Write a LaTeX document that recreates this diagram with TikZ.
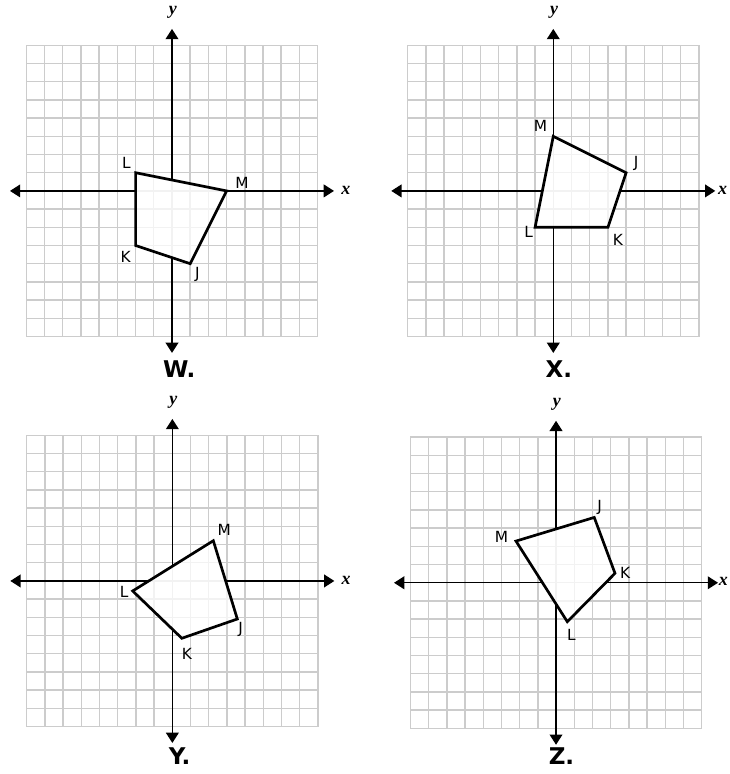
\documentclass[tikz,border=0pt]{standalone}
\usepackage{fontspec}
\usepackage{tikz}
\usetikzlibrary{arrows.meta}
\newfontfamily\vertexfont{DejaVu Sans}
\newfontfamily\axisfont{Liberation Serif}
\tikzset{
  plane grid/.style={draw=gray!40, line width=1.1pt, step=0.5cm},
  faint grid/.style={draw=gray!10, line width=1.1pt, step=0.5cm},
  plane axis/.style={line width=1pt,
    {Triangle[length=8pt,width=10pt]}-{Triangle[length=8pt,width=10pt]}},
  quad edge/.style={line width=2.1pt, line join=miter},
  vertex label/.style={font=\vertexfont\fontsize{12}{14}\selectfont, inner sep=0pt},
  axis label/.style={font=\axisfont\itshape\bfseries\fontsize{14}{14}\selectfont, inner sep=0pt},
  panel label/.style={font=\vertexfont\bfseries\fontsize{18}{18}\selectfont, inner sep=0pt}
}
% grid, axes and axis names of one plane
\newcommand{\coordplane}[2]{%
  \draw[plane grid] (-8,-8) grid (8,8);
  \coordinate (#1-xl) at (-8.9,0);
  \coordinate (#1-xr) at (8.9,0);
  \coordinate (#1-yb) at (0,-8.9);
  \coordinate (#1-yt) at (0,8.9);
  \draw[plane axis] (#1-xl) -- (#1-xr);
  \draw[plane axis] (#1-yb) -- (#1-yt);
  \node[axis label] (#1-x) at (#2,0.05) {x};
  \node[axis label] (#1-y) at (0.05,9.8) {y};
}
% the quadrilateral JKLM, white inside with a faint grid
\newcommand{\quadshape}[1]{%
  \fill[white] (#1-J) -- (#1-K) -- (#1-L) -- (#1-M) -- cycle;
  \begin{scope}
    \clip (#1-J) -- (#1-K) -- (#1-L) -- (#1-M) -- cycle;
    \draw[faint grid] (-8,-8) grid (8,8);
  \end{scope}
  \draw[quad edge] (#1-J) -- (#1-K) -- (#1-L) -- (#1-M) -- cycle;
}

\begin{document}
\begin{tikzpicture}[x=0.5cm,y=0.5cm]
  \useasboundingbox (0,0) rectangle (40.055,-42.527);

  % W.
  \begin{scope}[shift={(9.45,-10.49)}]
    \coordplane{W}{9.55}
    \coordinate (W-J) at (1,-4);
    \coordinate (W-K) at (-2,-3);
    \coordinate (W-L) at (-2,1);
    \coordinate (W-M) at (3,0);
    \quadshape{W}
    \node[vertex label] (W-jl) at (1.4,-4.6) {J};
    \node[vertex label] (W-kl) at (-2.55,-3.6) {K};
    \node[vertex label] (W-ll) at (-2.5,1.55) {L};
    \node[vertex label] (W-ml) at (3.85,0.45) {M};
    \node[panel label] (W-name) at (0.4,-9.8) {W.};
  \end{scope}

  % X.
  \begin{scope}[shift={(30.40,-10.49)}]
    \coordplane{X}{9.3}
    \coordinate (X-J) at (4,1);
    \coordinate (X-K) at (3,-2);
    \coordinate (X-L) at (-1,-2);
    \coordinate (X-M) at (0,3);
    \quadshape{X}
    \node[vertex label] (X-jl) at (4.55,1.5) {J};
    \node[vertex label] (X-kl) at (3.55,-2.7) {K};
    \node[vertex label] (X-ll) at (-1.35,-2.25) {L};
    \node[vertex label] (X-ml) at (-0.7,3.55) {M};
    \node[panel label] (X-name) at (0.3,-9.8) {X.};
  \end{scope}

  % Y.
  \begin{scope}[shift={(9.47,-31.92)}]
    \coordplane{Y}{9.55}
    \coordinate (Y-J) at (3.57,-2.09);
    \coordinate (Y-K) at (0.52,-3.15);
    \coordinate (Y-L) at (-2.18,-0.55);
    \coordinate (Y-M) at (2.25,2.21);
    \quadshape{Y}
    \node[vertex label] (Y-jl) at (3.75,-2.65) {J};
    \node[vertex label] (Y-kl) at (0.8,-4.0) {K};
    \node[vertex label] (Y-ll) at (-2.65,-0.6) {L};
    \node[vertex label] (Y-ml) at (2.85,2.8) {M};
    \node[panel label] (Y-name) at (0.4,-9.6) {Y.};
  \end{scope}

  % Z.
  \begin{scope}[shift={(30.55,-32.02)}]
    \coordplane{Z}{9.2}
    \coordinate (Z-J) at (2.1,3.59);
    \coordinate (Z-K) at (3.24,0.52);
    \coordinate (Z-L) at (0.62,-2.14);
    \coordinate (Z-M) at (-2.2,2.29);
    \quadshape{Z}
    \node[vertex label] (Z-jl) at (2.4,4.15) {J};
    \node[vertex label] (Z-kl) at (3.8,0.55) {K};
    \node[vertex label] (Z-ll) at (0.85,-2.85) {L};
    \node[vertex label] (Z-ml) at (-3.0,2.5) {M};
    \node[panel label] (Z-name) at (0.3,-9.5) {Z.};
  \end{scope}
\end{tikzpicture}
\end{document}
